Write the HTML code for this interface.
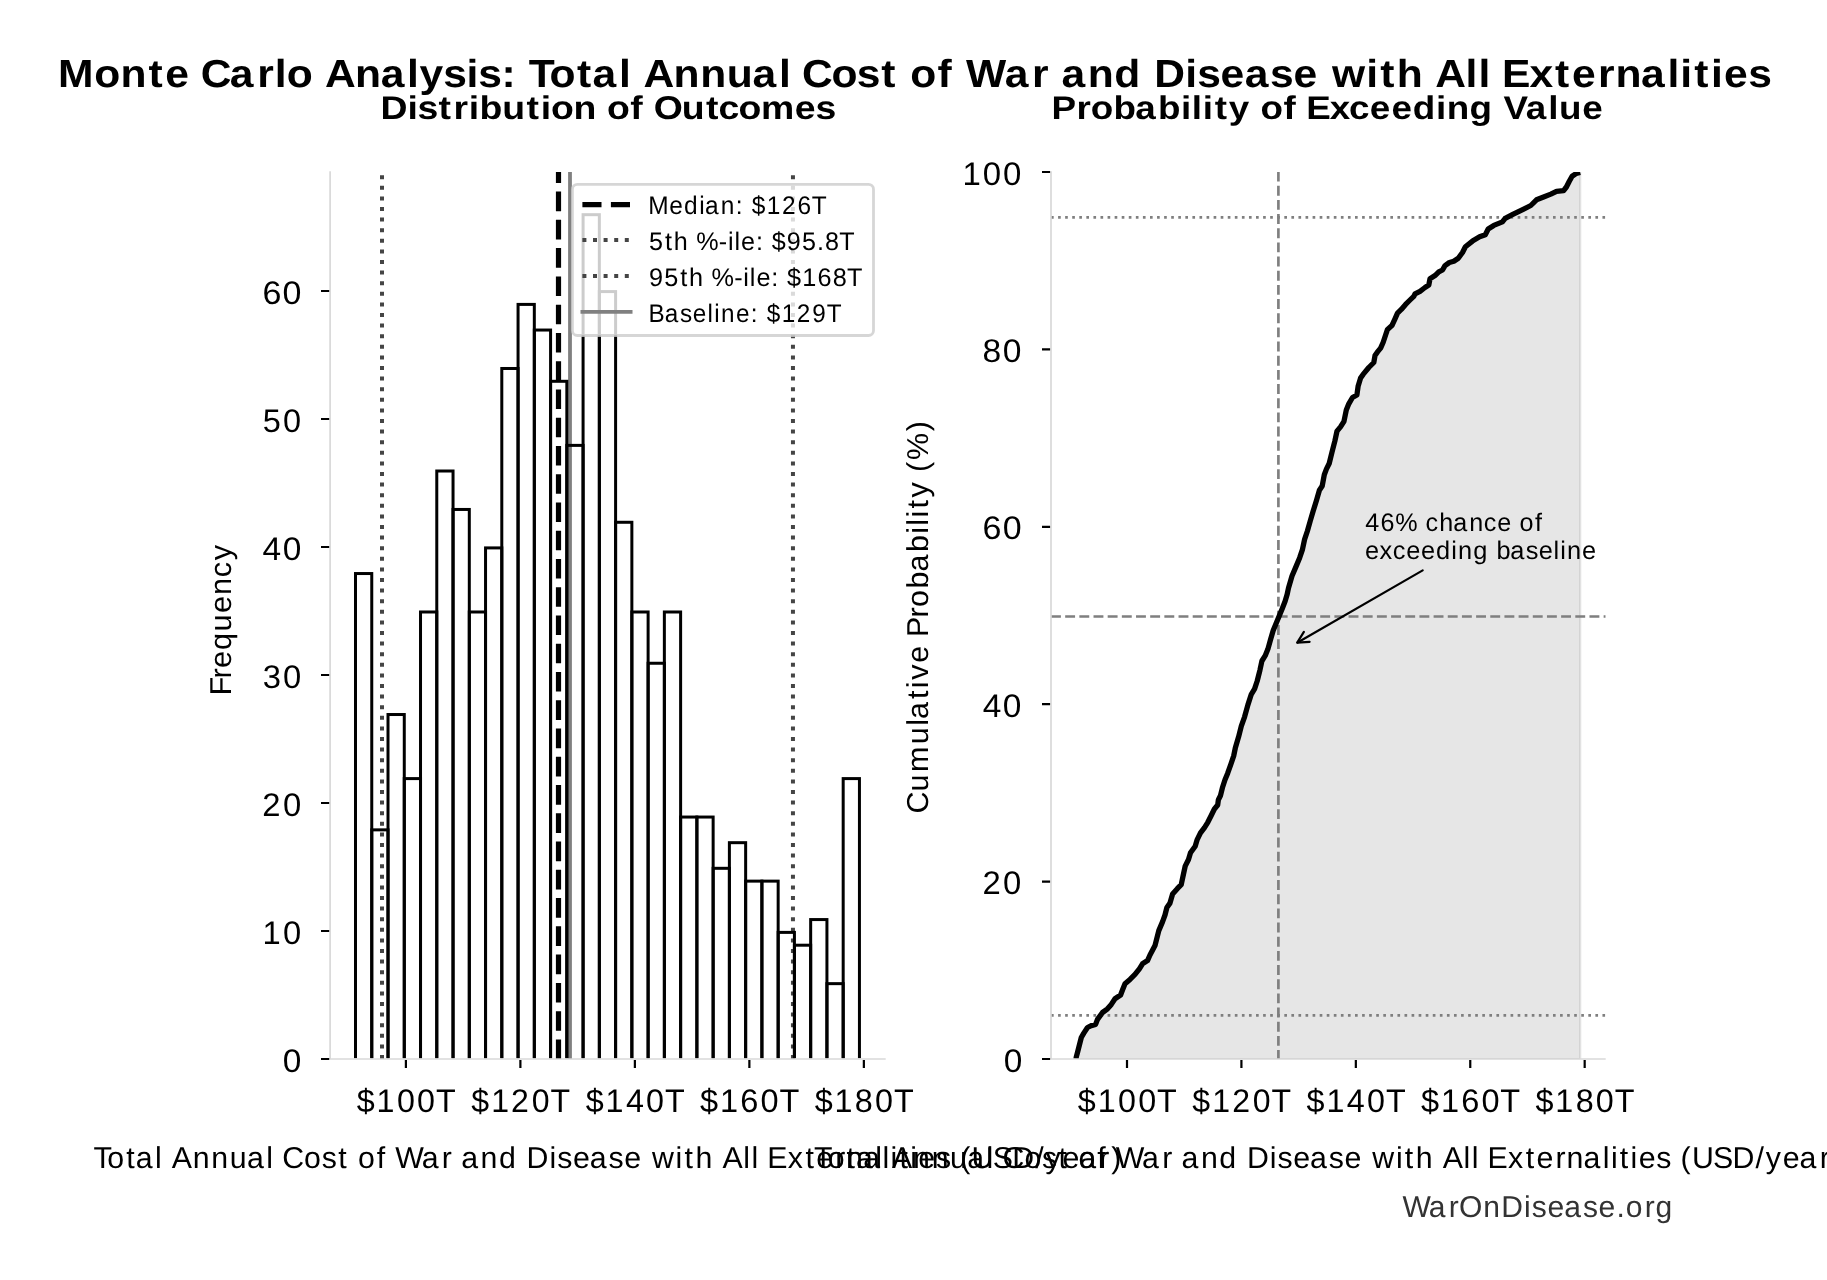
<!DOCTYPE html><html><head><meta charset="utf-8"><style>html,body{margin:0;padding:0;background:#fff;overflow:hidden}svg{display:block;will-change:transform}text{font-family:"Liberation Sans",sans-serif;font-kerning:none}</style></head><body>
<svg width="1827" height="1280" viewBox="0 0 1827 1280" text-rendering="geometricPrecision">
<defs><clipPath id="cl"><rect x="330.10" y="172.00" width="555.60" height="886.20"/></clipPath>
<clipPath id="cl2"><rect x="330.10" y="172.00" width="555.60" height="887.00"/></clipPath>
<clipPath id="cr"><rect x="1051.00" y="172.00" width="554.70" height="887.00"/></clipPath></defs>
<text transform="translate(0 86.85) scale(1.0899 1)" x="53.33 86.54 110.57 136.23 151.69 173.43 184.30 210.92 235.93 252.07 263.21 287.09 298.08 325.75 349.28 373.51 384.97 406.70 428.07 438.89 460.14 473.16 485.21 504.16 529.41 543.69 567.92 578.78 590.35 618.02 642.45 666.84 690.42 714.65 725.51 735.85 762.92 786.18 808.60 821.62 835.28 860.07 873.09 886.33 921.91 946.93 962.14 973.94 998.00 1022.29 1046.18 1058.97 1087.60 1098.43 1119.90 1142.00 1165.29 1186.76 1208.51 1222.08 1253.58 1266.40 1281.50 1305.39 1316.85 1344.69 1356.45 1367.32 1378.15 1403.34 1426.80 1442.26 1466.21 1482.18 1505.71 1529.94 1541.70 1554.52 1569.87 1581.74 1603.97" font-size="39.10" font-weight="bold" fill="#000">Monte Carlo Analysis: Total Annual Cost of War and Disease with All Externalities</text>
<text transform="translate(0 118.65) scale(1.1366 1)" x="334.79 358.50 367.29 385.80 399.02 412.35 421.92 441.90 463.13 475.76 484.79 504.54 524.63 534.06 554.54 565.49 575.09 599.84 621.07 632.14 649.78 669.57 699.16 717.44" font-size="32.90" font-weight="bold" fill="#000">Distribution of Outcomes</text>
<text transform="translate(0 118.75) scale(1.1187 1)" x="939.95 962.19 975.10 995.32 1014.87 1035.10 1055.59 1065.40 1075.20 1085.88 1098.39 1116.68 1126.72 1147.43 1158.38 1167.61 1188.63 1205.83 1224.35 1243.76 1262.80 1283.59 1293.20 1313.47 1333.57 1343.95 1363.83 1384.08 1393.65 1414.30" font-size="32.90" font-weight="bold" fill="#000">Probability of Exceeding Value</text>
<g clip-path="url(#cl2)" fill="none">
<path d="M382.0 1059V171" stroke="#454545" stroke-width="4" stroke-dasharray="4 6.6"/>
<path d="M558.5 1059V171" stroke="#000" stroke-width="5.2" stroke-dasharray="19.6 8.66"/>
<path d="M570.0 1059V171" stroke="#808080" stroke-width="3.8"/>
<path d="M792.95 1059V171" stroke="#454545" stroke-width="4" stroke-dasharray="4 6.6"/>
</g>
<g clip-path="url(#cl)" fill="none" stroke="#000" stroke-width="3">
<rect x="355.50" y="573.54" width="16.26" height="491.46"/>
<rect x="371.76" y="829.86" width="16.26" height="235.14"/>
<rect x="388.01" y="714.52" width="16.26" height="350.48"/>
<rect x="404.27" y="778.60" width="16.26" height="286.40"/>
<rect x="420.52" y="611.99" width="16.26" height="453.01"/>
<rect x="436.78" y="471.01" width="16.26" height="593.99"/>
<rect x="453.04" y="509.46" width="16.26" height="555.54"/>
<rect x="469.29" y="611.99" width="16.26" height="453.01"/>
<rect x="485.55" y="547.91" width="16.26" height="517.09"/>
<rect x="501.80" y="368.49" width="16.26" height="696.51"/>
<rect x="518.06" y="304.41" width="16.26" height="760.59"/>
<rect x="534.32" y="330.04" width="16.26" height="734.96"/>
<rect x="550.57" y="381.30" width="16.26" height="683.70"/>
<rect x="566.83" y="445.38" width="16.26" height="619.62"/>
<rect x="583.08" y="214.69" width="16.26" height="850.31"/>
<rect x="599.34" y="291.59" width="16.26" height="773.41"/>
<rect x="615.60" y="522.28" width="16.26" height="542.72"/>
<rect x="631.85" y="611.99" width="16.26" height="453.01"/>
<rect x="648.11" y="663.25" width="16.26" height="401.75"/>
<rect x="664.36" y="611.99" width="16.26" height="453.01"/>
<rect x="680.62" y="817.05" width="16.26" height="247.95"/>
<rect x="696.88" y="817.05" width="16.26" height="247.95"/>
<rect x="713.13" y="868.31" width="16.26" height="196.69"/>
<rect x="729.39" y="842.68" width="16.26" height="222.32"/>
<rect x="745.64" y="881.13" width="16.26" height="183.87"/>
<rect x="761.90" y="881.13" width="16.26" height="183.87"/>
<rect x="778.16" y="932.39" width="16.26" height="132.61"/>
<rect x="794.41" y="945.21" width="16.26" height="119.79"/>
<rect x="810.67" y="919.57" width="16.26" height="145.43"/>
<rect x="826.92" y="983.65" width="16.26" height="81.35"/>
<rect x="843.18" y="778.60" width="16.26" height="286.40"/>
</g>
<path d="M330.10 171.15V1059.00" stroke="#d9d9d9" stroke-width="1.7"/>
<path d="M329.25 1059.00H885.70" stroke="#d9d9d9" stroke-width="1.7"/>
<path d="M321 1059.00H329.2M321 931.00H329.2M321 803.00H329.2M321 675.00H329.2M321 547.00H329.2M321 419.00H329.2M321 291.00H329.2M405.90 1059.9V1068M520.39 1059.9V1068M634.88 1059.9V1068M749.37 1059.9V1068M863.86 1059.9V1068" stroke="#000" stroke-width="2.2"/>
<text transform="translate(0 1071.60) scale(1.0219 1)" x="276.66" font-size="32.70" fill="#000">0</text>
<text transform="translate(0 943.60) scale(1.0001 1)" x="262.55 282.88" font-size="32.70" fill="#000">10</text>
<text transform="translate(0 815.60) scale(1.0039 1)" x="261.28 281.79" font-size="32.70" fill="#000">20</text>
<text transform="translate(0 687.60) scale(1.0017 1)" x="262.32 282.41" font-size="32.70" fill="#000">30</text>
<text transform="translate(0 559.60) scale(1.0220 1)" x="256.91 276.64" font-size="32.70" fill="#000">40</text>
<text transform="translate(0 431.60) scale(0.9933 1)" x="264.47 284.90" font-size="32.70" fill="#000">50</text>
<text transform="translate(0 303.60) scale(1.0395 1)" x="252.43 271.84" font-size="32.70" fill="#000">60</text>
<text transform="translate(0 1111.90) scale(0.9877 1)" x="361.14 381.31 401.88 422.30 441.44" font-size="32.70" fill="#000">$100T</text>
<text transform="translate(0 1111.90) scale(0.9806 1)" x="480.60 500.91 521.21 542.20 561.48" font-size="32.70" fill="#000">$120T</text>
<text transform="translate(0 1111.90) scale(0.9881 1)" x="592.74 612.89 633.46 653.87 673.00" font-size="32.70" fill="#000">$140T</text>
<text transform="translate(0 1111.90) scale(0.9942 1)" x="704.21 724.25 744.70 764.98 783.98" font-size="32.70" fill="#000">$160T</text>
<text transform="translate(0 1111.90) scale(0.9897 1)" x="823.12 843.25 863.78 884.16 903.26" font-size="32.70" fill="#000">$180T</text>
<rect x="572.4" y="184.4" width="301.1" height="151.1" rx="5" ry="5" fill="#fff" fill-opacity="0.8" stroke="#ccc" stroke-opacity="0.8" stroke-width="2.8"/>
<path d="M582.4 204.6H630.6" stroke="#000" stroke-width="5.2" stroke-dasharray="19.1 9.4"/>
<path d="M582.4 240.0H630.6" stroke="#454545" stroke-width="4" stroke-dasharray="4 6.6"/>
<path d="M582.4 276.0H630.6" stroke="#454545" stroke-width="4" stroke-dasharray="4 6.6"/>
<path d="M580.5 311.8H632.5" stroke="#808080" stroke-width="3.8"/>
<text transform="translate(0 213.80) scale(0.9642 1)" x="672.24 694.17 709.51 725.27 731.16 747.64 763.20 770.25 779.73 795.35 810.97 827.12 841.94" font-size="25.40" fill="#000">Median: $126T</text>
<text transform="translate(0 249.85) scale(0.9901 1)" x="655.58 671.59 680.53 694.66 703.13 726.05 735.19 741.89 748.50 763.50 770.56 779.49 794.72 810.09 825.25 833.26 847.65" font-size="25.40" fill="#000">5th %-ile: $95.8T</text>
<text transform="translate(0 285.90) scale(0.9949 1)" x="652.41 667.72 683.68 692.58 706.71 715.08 737.93 747.04 753.73 760.29 775.25 782.31 791.16 806.28 821.74 837.07 851.41" font-size="25.40" fill="#000">95th %-ile: $168T</text>
<text transform="translate(0 321.95) scale(0.9566 1)" x="678.04 694.82 710.83 724.22 739.60 746.57 753.79 769.42 784.84 791.90 801.51 817.25 832.98 849.16 864.18" font-size="25.40" fill="#000">Baseline: $129T</text>
<text transform="translate(0 1167.80) scale(1.0037 1)" x="93.25 106.98 125.77 135.24 154.39 161.10 171.02 192.02 210.55 228.94 246.14 265.29 271.99 281.13 302.95 320.55 336.97 345.36 356.81 375.47 383.86 393.92 420.23 440.23 450.28 459.44 478.82 497.11 513.91 524.66 547.49 555.16 570.77 587.56 606.28 621.89 638.69 649.55 673.14 682.00 692.88 709.68 719.73 740.52 748.64 755.35 764.41 784.84 802.57 813.22 832.11 842.98 860.05 879.20 887.33 896.19 906.91 914.97 932.56 947.66 956.73 968.01 988.98 1008.57 1031.40 1041.61 1058.47 1075.27 1095.27 1107.17" font-size="30.20" fill="#000">Total Annual Cost of War and Disease with All Externalities (USD/year)</text>
<text transform="translate(0 1167.80) scale(1.0037 1)" x="810.93 824.66 843.45 852.92 872.07 878.78 888.69 909.70 928.22 946.62 963.81 982.96 989.67 998.80 1020.63 1038.23 1054.65 1063.04 1074.49 1093.15 1101.54 1111.59 1137.90 1157.90 1167.96 1177.12 1196.49 1214.79 1231.58 1242.34 1265.16 1272.83 1288.44 1305.24 1323.95 1339.56 1356.36 1367.22 1390.81 1399.67 1410.56 1427.35 1437.41 1458.19 1466.31 1473.02 1482.09 1502.52 1520.24 1530.89 1549.78 1560.66 1577.72 1596.87 1605.01 1613.87 1624.59 1632.64 1650.24 1665.34 1674.40 1685.69 1706.65 1726.24 1749.08 1759.29 1776.15 1792.94 1812.94 1824.84" font-size="30.20" fill="#000">Total Annual Cost of War and Disease with All Externalities (USD/year)</text>
<text transform="translate(230.80 0) rotate(-90) scale(1.0189 1)" x="-682.64 -665.81 -655.62 -637.99 -619.73 -601.75 -583.89 -566.52 -549.86" font-size="30.20" fill="#000">Frequency</text>
<text transform="translate(927.90 0) rotate(-90) scale(1.0094 1)" x="-806.04 -784.10 -764.80 -737.43 -719.09 -712.29 -692.49 -681.84 -673.42 -656.69 -639.90 -631.03 -611.69 -601.41 -583.14 -566.31 -546.92 -528.81 -520.76 -512.67 -503.88 -492.89 -477.79 -467.64 -455.82 -427.21" font-size="30.20" fill="#000">Cumulative Probability (%)</text>
<g clip-path="url(#cr)">
<polygon points="1076.00,1059.00 1076.30,1056.90 1077.50,1052.50 1081.30,1037.50 1083.80,1033.10 1087.50,1027.50 1091.30,1025.60 1095.60,1024.40 1097.50,1019.40 1102.50,1012.50 1107.50,1008.80 1111.30,1004.40 1115.00,998.80 1120.60,995.00 1122.50,990.00 1125.00,983.80 1130.00,979.40 1135.00,974.40 1139.40,968.80 1142.50,963.80 1147.50,960.60 1150.00,955.00 1155.00,945.60 1158.80,930.60 1162.50,921.90 1165.00,915.00 1166.90,907.50 1170.00,903.10 1172.60,894.00 1177.30,888.70 1181.20,884.70 1183.20,875.40 1185.20,866.10 1188.50,859.50 1190.50,852.80 1195.20,846.20 1197.20,839.60 1200.50,832.90 1204.50,827.60 1207.80,822.30 1211.10,815.70 1214.40,809.00 1217.70,805.00 1218.40,799.70 1220.40,795.80 1222.40,787.80 1225.00,779.80 1227.70,773.20 1231.00,763.90 1233.70,755.90 1235.30,748.10 1238.60,736.80 1241.30,726.10 1244.60,716.80 1247.90,704.90 1251.30,694.30 1254.60,688.90 1257.20,681.00 1259.90,670.30 1261.90,661.00 1265.20,655.70 1267.90,649.10 1270.50,639.80 1273.20,630.50 1276.50,622.50 1279.20,615.90 1282.50,607.90 1285.10,601.30 1287.10,594.60 1288.50,588.00 1292.00,576.00 1296.20,566.10 1299.70,557.70 1302.50,549.30 1304.60,539.40 1307.40,531.00 1310.20,521.10 1313.10,511.30 1316.60,500.00 1319.40,490.20 1322.20,486.00 1324.30,474.70 1326.40,469.10 1329.20,463.50 1332.00,452.20 1334.90,440.90 1337.00,431.10 1340.50,426.90 1344.00,421.30 1346.30,410.00 1348.80,403.80 1352.50,397.50 1356.90,395.00 1358.10,386.30 1360.60,378.10 1363.10,374.40 1368.80,367.50 1373.80,362.50 1375.00,355.60 1377.50,351.90 1380.60,348.10 1383.10,342.50 1385.60,335.00 1387.50,329.40 1391.90,325.60 1395.00,318.80 1397.50,313.10 1401.30,309.40 1405.60,304.40 1410.00,300.00 1413.80,296.30 1415.00,293.80 1420.00,291.30 1425.00,287.50 1428.80,285.00 1430.00,278.80 1435.00,275.60 1438.80,271.90 1442.50,270.00 1445.00,265.60 1449.40,262.50 1453.80,261.30 1458.30,258.20 1462.50,252.50 1465.40,246.80 1472.50,241.10 1479.60,236.80 1485.30,234.70 1488.20,229.00 1493.80,225.40 1502.40,221.90 1505.20,218.30 1512.30,214.70 1518.00,211.90 1523.70,209.10 1530.80,205.50 1536.50,199.80 1543.60,197.00 1550.80,194.10 1556.50,191.30 1563.60,190.60 1566.40,187.00 1569.30,181.30 1572.10,176.30 1576.40,173.40 1580.20,172.50 1580.20,1059.00 1076.00,1059.00" fill="#808080" fill-opacity="0.2" stroke="#808080" stroke-opacity="0.2" stroke-width="2.2"/>
<g fill="none" stroke="#7f7f7f" stroke-width="2.67">
<path d="M1278.4 1059V171" stroke-dasharray="9.9 4.27" stroke-dashoffset="1"/>
<path d="M1051 616.50H1605.7" stroke-dasharray="9.9 4.27"/>
<path d="M1051 1015.35H1605.7" stroke-dasharray="2.67 4.4"/>
<path d="M1051 217.45H1605.7" stroke-dasharray="2.67 4.4"/>
</g>
<polyline points="1076.00,1059.00 1076.30,1056.90 1077.50,1052.50 1081.30,1037.50 1083.80,1033.10 1087.50,1027.50 1091.30,1025.60 1095.60,1024.40 1097.50,1019.40 1102.50,1012.50 1107.50,1008.80 1111.30,1004.40 1115.00,998.80 1120.60,995.00 1122.50,990.00 1125.00,983.80 1130.00,979.40 1135.00,974.40 1139.40,968.80 1142.50,963.80 1147.50,960.60 1150.00,955.00 1155.00,945.60 1158.80,930.60 1162.50,921.90 1165.00,915.00 1166.90,907.50 1170.00,903.10 1172.60,894.00 1177.30,888.70 1181.20,884.70 1183.20,875.40 1185.20,866.10 1188.50,859.50 1190.50,852.80 1195.20,846.20 1197.20,839.60 1200.50,832.90 1204.50,827.60 1207.80,822.30 1211.10,815.70 1214.40,809.00 1217.70,805.00 1218.40,799.70 1220.40,795.80 1222.40,787.80 1225.00,779.80 1227.70,773.20 1231.00,763.90 1233.70,755.90 1235.30,748.10 1238.60,736.80 1241.30,726.10 1244.60,716.80 1247.90,704.90 1251.30,694.30 1254.60,688.90 1257.20,681.00 1259.90,670.30 1261.90,661.00 1265.20,655.70 1267.90,649.10 1270.50,639.80 1273.20,630.50 1276.50,622.50 1279.20,615.90 1282.50,607.90 1285.10,601.30 1287.10,594.60 1288.50,588.00 1292.00,576.00 1296.20,566.10 1299.70,557.70 1302.50,549.30 1304.60,539.40 1307.40,531.00 1310.20,521.10 1313.10,511.30 1316.60,500.00 1319.40,490.20 1322.20,486.00 1324.30,474.70 1326.40,469.10 1329.20,463.50 1332.00,452.20 1334.90,440.90 1337.00,431.10 1340.50,426.90 1344.00,421.30 1346.30,410.00 1348.80,403.80 1352.50,397.50 1356.90,395.00 1358.10,386.30 1360.60,378.10 1363.10,374.40 1368.80,367.50 1373.80,362.50 1375.00,355.60 1377.50,351.90 1380.60,348.10 1383.10,342.50 1385.60,335.00 1387.50,329.40 1391.90,325.60 1395.00,318.80 1397.50,313.10 1401.30,309.40 1405.60,304.40 1410.00,300.00 1413.80,296.30 1415.00,293.80 1420.00,291.30 1425.00,287.50 1428.80,285.00 1430.00,278.80 1435.00,275.60 1438.80,271.90 1442.50,270.00 1445.00,265.60 1449.40,262.50 1453.80,261.30 1458.30,258.20 1462.50,252.50 1465.40,246.80 1472.50,241.10 1479.60,236.80 1485.30,234.70 1488.20,229.00 1493.80,225.40 1502.40,221.90 1505.20,218.30 1512.30,214.70 1518.00,211.90 1523.70,209.10 1530.80,205.50 1536.50,199.80 1543.60,197.00 1550.80,194.10 1556.50,191.30 1563.60,190.60 1566.40,187.00 1569.30,181.30 1572.10,176.30 1576.40,173.40 1580.20,172.50" fill="none" stroke="#000" stroke-width="5.3" stroke-linejoin="round" stroke-linecap="butt"/>
</g>
<path d="M1051.00 171.15V1059.00" stroke="#d9d9d9" stroke-width="1.7"/>
<path d="M1050.15 1059.00H1605.70" stroke="#d9d9d9" stroke-width="1.7"/>
<path d="M1042 1059.00H1050.1M1042 881.60H1050.1M1042 704.20H1050.1M1042 526.80H1050.1M1042 349.40H1050.1M1042 172.00H1050.1M1127.00 1059.9V1068M1241.42 1059.9V1068M1355.84 1059.9V1068M1470.26 1059.9V1068M1584.68 1059.9V1068" stroke="#000" stroke-width="2.2"/>
<text transform="translate(0 1071.60) scale(1.0219 1)" x="982.31" font-size="32.70" fill="#000">0</text>
<text transform="translate(0 894.20) scale(1.0039 1)" x="978.59 999.09" font-size="32.70" fill="#000">20</text>
<text transform="translate(0 716.80) scale(1.0220 1)" x="961.53 981.27" font-size="32.70" fill="#000">40</text>
<text transform="translate(0 539.40) scale(1.0395 1)" x="945.20 964.60" font-size="32.70" fill="#000">60</text>
<text transform="translate(0 362.00) scale(1.0274 1)" x="956.41 976.04" font-size="32.70" fill="#000">80</text>
<text transform="translate(0 184.60) scale(1.0076 1)" x="955.16 975.33 995.35" font-size="32.70" fill="#000">100</text>
<text transform="translate(0 1111.90) scale(0.9877 1)" x="1091.20 1111.37 1131.94 1152.36 1171.49" font-size="32.70" fill="#000">$100T</text>
<text transform="translate(0 1111.90) scale(0.9806 1)" x="1215.90 1236.22 1256.52 1277.51 1296.79" font-size="32.70" fill="#000">$120T</text>
<text transform="translate(0 1111.90) scale(0.9881 1)" x="1322.37 1342.53 1363.10 1383.51 1402.64" font-size="32.70" fill="#000">$140T</text>
<text transform="translate(0 1111.90) scale(0.9942 1)" x="1429.32 1449.35 1469.80 1490.08 1509.09" font-size="32.70" fill="#000">$160T</text>
<text transform="translate(0 1111.90) scale(0.9897 1)" x="1551.44 1571.56 1592.10 1612.48 1631.57" font-size="32.70" fill="#000">$180T</text>
<text transform="translate(0 530.70) scale(0.9907 1)" x="1378.05 1393.44 1408.40 1430.98 1438.88 1452.78 1466.93 1482.96 1497.65 1511.36 1525.48 1533.84 1549.33" font-size="25.40" fill="#000">46% chance of</text>
<text transform="translate(0 558.70) scale(0.9990 1)" x="1366.25 1380.98 1394.07 1407.73 1422.55 1437.42 1452.81 1459.59 1474.68 1488.80 1497.92 1511.89 1527.34 1540.19 1555.14 1561.85 1568.63 1583.67" font-size="25.40" fill="#000">exceeding baseline</text>
<path d="M1422.7 570.4L1297.6 642.5" stroke="#000" stroke-width="2.2" fill="none" stroke-linecap="round"/>
<path d="M1309.6 641.8L1297.2 642.7L1303.9 631.9" stroke="#000" stroke-width="2.2" fill="none" stroke-linejoin="round" stroke-linecap="round"/>
<text transform="translate(0 1217.00) scale(0.9948 1)" x="1409.80 1436.25 1456.36 1466.69 1490.99 1509.13 1532.05 1539.80 1555.52 1572.43 1591.26 1606.98 1624.83 1634.33 1653.32 1664.05" font-size="30.20" fill="#333">WarOnDisease.org</text>
</svg></body></html>
